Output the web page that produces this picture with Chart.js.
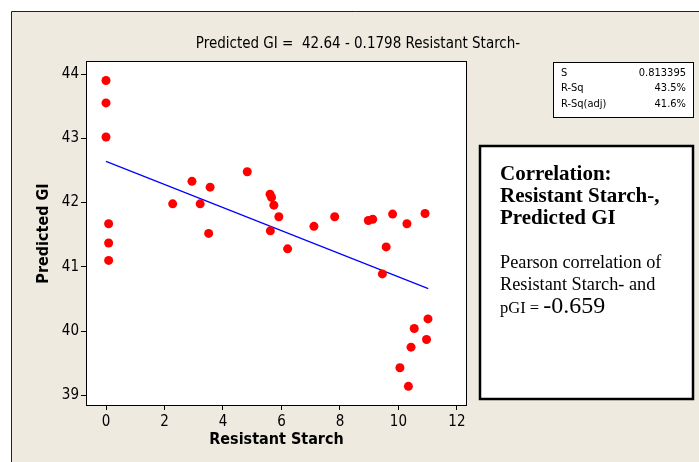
<!DOCTYPE html>
<html>
<head>
<meta charset="utf-8">
<script src="https://cdn.jsdelivr.net/npm/chart.js@4"></script>
<style>
  html, body { margin: 0; padding: 0; background: #fff; }
  #wrap { width: 699px; height: 462px; }
</style>
</head>
<body>
<div id="wrap"><canvas id="fitChart" width="699" height="462"></canvas></div>
<script>
// values
const starchX = [0, 0, 0, 0.09, 0.09, 0.09, 2.28, 2.94, 3.22, 3.56, 3.51, 4.83,
  5.61, 5.66, 5.74, 5.91, 5.62, 6.21, 7.11, 7.82, 8.97, 9.12, 9.80, 10.29,
  10.91, 9.58, 9.45, 11.01, 10.54, 10.96, 10.43, 10.05, 10.34];
const predictedGI = [43.90, 43.55, 43.02, 41.67, 41.37, 41.10, 41.98, 42.33, 41.98, 42.24, 41.52, 42.48,
  42.13, 42.08, 41.96, 41.78, 41.56, 41.28, 41.63, 41.78, 41.72, 41.74, 41.82, 41.67,
  41.83, 41.31, 40.89, 40.19, 40.04, 39.87, 39.75, 39.43, 39.14];
const fitX = [0, 11.02];
const fitY = [42.64, 40.66];
const xTicks = [0, 2, 4, 6, 8, 10, 12];
const yTicks = [39, 40, 41, 42, 43, 44];

const uiFont = '"Liberation Sans Narrow", "DejaVu Sans Condensed", sans-serif';
const serif = '"Liberation Serif", "DejaVu Serif", serif';

const panelPlugin = {
  id: 'panel',
  beforeDraw(chart) {
    const c = chart.ctx;
    const a = chart.chartArea;
    c.save();
    c.fillStyle = '#fff';
    c.fillRect(0, 0, chart.width, chart.height);
    c.fillStyle = '#eeeae0';
    c.fillRect(12, 11, chart.width - 12, chart.height - 11);
    c.strokeStyle = '#222';
    c.lineWidth = 1;
    c.beginPath();
    c.moveTo(11.5, chart.height);
    c.lineTo(11.5, 11.5);
    c.lineTo(chart.width, 11.5);
    c.stroke();
    c.fillStyle = '#fff';
    c.fillRect(a.left, a.top, a.right - a.left, a.bottom - a.top);
    c.restore();
  },
  afterDraw(chart) {
    const c = chart.ctx;
    const a = chart.chartArea;
    c.save();
    c.strokeStyle = '#000';
    c.lineWidth = 1;
    c.strokeRect(a.left - 0.5, a.top - 0.5, a.right - a.left + 1, a.bottom - a.top + 1);

    // equation title
    c.fillStyle = '#000';
    c.font = '15px "DejaVu Sans Condensed", sans-serif';
    c.textAlign = 'center';
    c.textBaseline = 'alphabetic';
    c.fillText('Predicted GI =  42.64 - 0.1798 Resistant Starch-', 358, 48);

    // stats box
    c.fillStyle = '#fff';
    c.fillRect(553, 62, 140, 55);
    c.strokeRect(553.5, 62.5, 140, 55);
    c.fillStyle = '#000';
    c.font = '11px ' + uiFont;
    c.textBaseline = 'middle';
    const rows = [['S', '0.813395'], ['R-Sq', '43.5%'], ['R-Sq(adj)', '41.6%']];
    rows.forEach((r, i) => {
      const y = 73 + i * 15.5;
      c.textAlign = 'left';
      c.fillText(r[0], 561, y);
      c.textAlign = 'right';
      c.fillText(r[1], 686, y);
    });

    // correlation box
    c.fillStyle = '#fff';
    c.fillRect(479, 145, 215, 255);
    c.lineWidth = 2.5;
    c.strokeStyle = '#000';
    c.strokeRect(480, 146, 213, 253);
    c.fillStyle = '#000';
    c.textAlign = 'left';
    c.textBaseline = 'alphabetic';
    c.font = 'bold 21px ' + serif;
    c.fillText('Correlation:', 500, 180);
    c.fillText('Resistant Starch-,', 500, 202);
    c.fillText('Predicted GI', 500, 224);
    c.font = '18.3px ' + serif;
    c.fillText('Pearson correlation of', 500, 268);
    c.fillText('Resistant Starch- and', 500, 290);
    c.font = '16.5px ' + serif;
    c.fillText('pGI = ', 500, 313);
    const w = c.measureText('pGI = ').width;
    c.font = '24px ' + serif;
    c.fillText('-0.659', 500 + w, 313);
    c.restore();
  }
};

new Chart(document.getElementById('fitChart').getContext('2d'), {
  type: 'scatter',
  data: {
    datasets: [
      {
        label: 'Predicted GI',
        data: starchX.map((x, i) => ({ x: x, y: predictedGI[i] })),
        backgroundColor: '#ff0000',
        borderColor: '#ff0000',
        pointRadius: 4.5,
        pointBorderWidth: 0
      },
      {
        type: 'line',
        label: 'Fit',
        data: fitX.map((x, i) => ({ x: x, y: fitY[i] })),
        borderColor: '#0000ff',
        borderWidth: 1.2,
        pointRadius: 0,
        fill: false
      }
    ]
  },
  options: {
    responsive: false,
    animation: false,
    events: [],
    layout: { padding: { left: 0, top: 62, right: 233, bottom: 0 } },
    plugins: { legend: { display: false }, tooltip: { enabled: false }, title: { display: false } },
    scales: {
      x: {
        type: 'linear',
        min: -0.65,
        max: 12.31,
        afterFit(s) { s.height = 57; },
        afterBuildTicks(s) { s.ticks = xTicks.map(v => ({ value: v })); },
        grid: { drawOnChartArea: false, drawTicks: true, tickLength: 5, color: '#000' },
        border: { display: false },
        ticks: { color: '#000', font: { family: uiFont, size: 15 }, padding: 3 },
        title: {
          display: true, text: 'Resistant Starch', color: '#000',
          font: { family: uiFont, size: 16, weight: 'bold' },
          padding: { top: 0, bottom: 13 }
        }
      },
      y: {
        type: 'linear',
        min: 38.85,
        max: 44.187,
        afterFit(s) { s.width = 87; },
        afterBuildTicks(s) { s.ticks = yTicks.map(v => ({ value: v })); },
        grid: { drawOnChartArea: false, drawTicks: true, tickLength: 6, color: '#000' },
        border: { display: false },
        ticks: { color: '#000', font: { family: uiFont, size: 15 }, padding: 2 },
        title: {
          display: true, text: 'Predicted GI', color: '#000',
          font: { family: uiFont, size: 16, weight: 'bold' },
          padding: { top: 34, bottom: 0 }
        }
      }
    }
  },
  plugins: [panelPlugin]
});
</script>
</body>
</html>
